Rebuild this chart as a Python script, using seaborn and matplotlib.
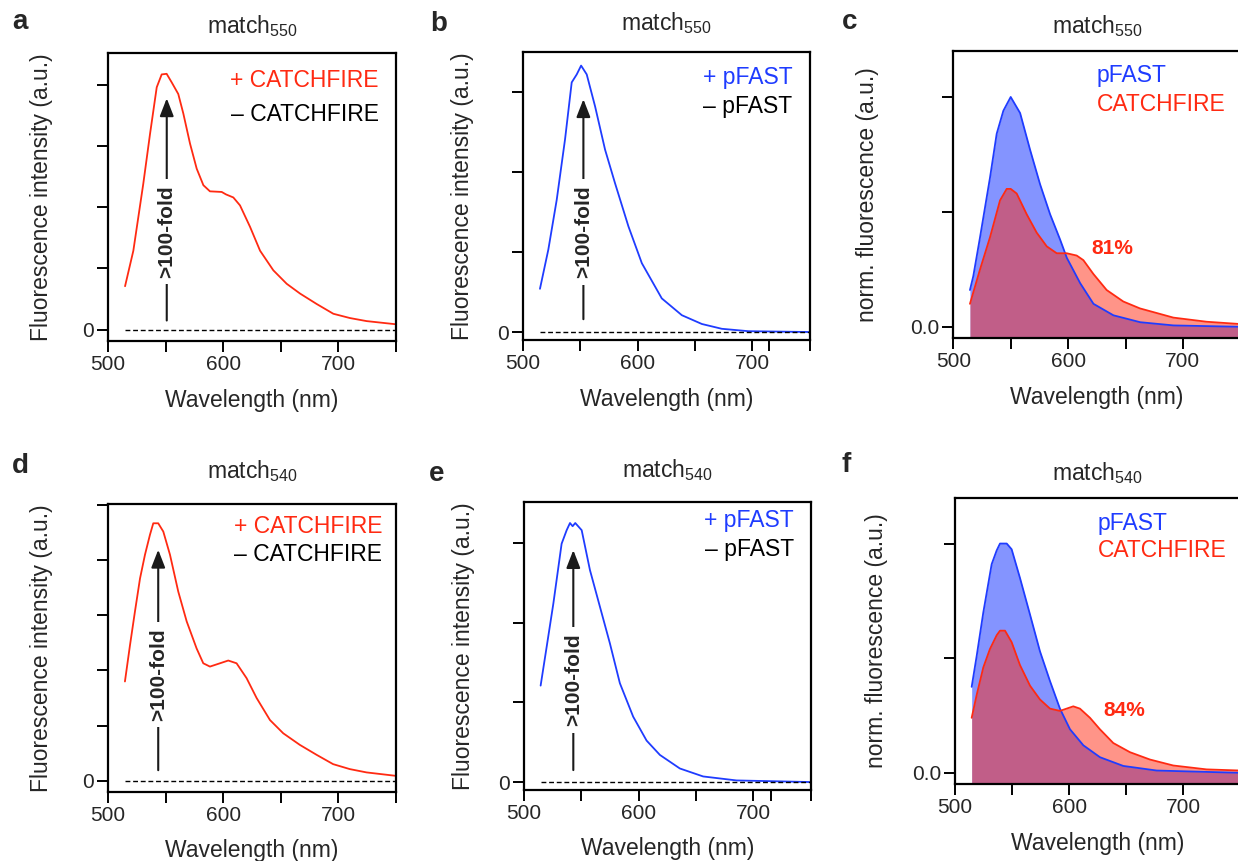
import matplotlib
matplotlib.use('Agg')
import matplotlib.pyplot as plt
import seaborn as sns
import pandas as pd

# ---- data (wavelength in nm, intensity in a.u.) ----
# a: match550, + CATCHFIRE
wl_a = [514.8, 522, 530.6, 536.5, 542.3, 546.6, 550.9, 555.3, 561, 565.4, 571.2, 577, 582.8,
        588.5, 598.7, 602.4, 608.8, 614.6, 623.3, 632, 643.5, 655.1, 666.7, 681.1, 695.6,
        710, 724.5, 749.1]
int_a = [0.71, 1.29, 2.38, 3.2, 3.96, 4.17, 4.18, 4.04, 3.85, 3.53, 3.04, 2.63, 2.36,
         2.26, 2.25, 2.21, 2.16, 2.03, 1.68, 1.29, 0.97, 0.75, 0.59, 0.42, 0.26,
         0.19, 0.14, 0.09]

# b: match550, + pFAST
wl_b = [514.8, 522.1, 529.4, 536.7, 542.5, 546.9, 550.7, 555.6, 562.9, 571.6, 580.3, 592,
        603.7, 621.1, 638.6, 656.1, 673.5, 696.8, 749.2]
int_b = [0.54, 1.03, 1.65, 2.41, 3.12, 3.22, 3.33, 3.22, 2.82, 2.28, 1.86, 1.32,
         0.86, 0.42, 0.21, 0.10, 0.04, 0.01, 0.0]

# c: match550, normalised
wl_c_pfast = [514.5, 517.4, 523.3, 532, 537.8, 543.6, 550, 558.2, 566.9, 575.6, 584.3, 593,
              598.9, 610.5, 622.1, 639.5, 662.8, 691.8, 750]
norm_c_pfast = [0.16, 0.22, 0.39, 0.65, 0.84, 0.94, 1.0, 0.93, 0.77, 0.62, 0.49, 0.38,
                0.30, 0.19, 0.10, 0.05, 0.02, 0.006, 0.0]
wl_c_cf = [514.5, 523.3, 532, 540.7, 546.5, 550, 555.2, 563.9, 572.6, 581.4, 590.1, 598.8,
           607.5, 613.3, 622, 633.6, 648.1, 662.6, 691.7, 720.7, 750]
norm_c_cf = [0.10, 0.25, 0.39, 0.55, 0.60, 0.60, 0.58, 0.49, 0.41, 0.35, 0.32, 0.32,
             0.31, 0.29, 0.23, 0.16, 0.11, 0.08, 0.04, 0.022, 0.012]

# d: match540, + CATCHFIRE
wl_d = [514.7, 519.1, 523.4, 527.8, 532.1, 536.4, 539.3, 543.6, 548, 553.8, 561, 568.3,
        576.9, 582.7, 588.5, 597.2, 604.4, 611.6, 620.3, 629, 640.6, 652.1, 666.5, 681,
        695.4, 709.9, 724.4, 748.9]
int_d = [1.80, 2.46, 3.07, 3.67, 4.10, 4.46, 4.67, 4.67, 4.52, 4.10, 3.43, 2.89,
         2.40, 2.13, 2.07, 2.13, 2.18, 2.13, 1.86, 1.50, 1.10, 0.86, 0.65, 0.47,
         0.30, 0.21, 0.15, 0.09]

# e: match540, + pFAST
wl_e = [514.5, 519.8, 525.6, 532.8, 537.2, 540.1, 542.4, 544.7, 550.3, 557.5, 566.2, 574.9,
        583.6, 595.2, 606.9, 618.5, 635.9, 656.2, 685.3, 749.1]
int_e = [1.21, 1.70, 2.24, 2.99, 3.16, 3.25, 3.21, 3.25, 3.16, 2.66, 2.20, 1.74,
         1.24, 0.82, 0.52, 0.34, 0.17, 0.07, 0.02, 0.0]

# f: match540, normalised
wl_f_pfast = [514.6, 519, 524.8, 532.1, 536.5, 539.4, 545.3, 549.6, 556.9, 565.7, 574.4, 583.2,
              591.9, 600.7, 612.4, 627, 647.4, 676.6, 750]
norm_f_pfast = [0.375, 0.51, 0.70, 0.91, 0.97, 1.0, 1.0, 0.975, 0.85, 0.69, 0.53, 0.40,
                0.28, 0.19, 0.12, 0.068, 0.03, 0.01, 0.0]
wl_f_cf = [514.6, 519, 524.8, 530.6, 536.5, 539.4, 543.8, 549.6, 556.9, 565.7, 574.4, 583.2,
           591.9, 597.7, 603.6, 609.4, 618.2, 626.9, 638.6, 653.2, 670.7, 691.1, 720.3, 750]
norm_f_cf = [0.24, 0.34, 0.46, 0.54, 0.60, 0.62, 0.62, 0.57, 0.47, 0.38, 0.32, 0.28,
             0.27, 0.28, 0.29, 0.28, 0.24, 0.19, 0.13, 0.09, 0.058, 0.032, 0.015, 0.01]

# "minus" controls (flat at zero)
wl_neg = [515, 750]
int_neg = [0, 0]

RED = '#ff2a12'
BLUE = '#1f3cff'

sns.set_theme(style='ticks')
plt.rcParams['font.family'] = ['Liberation Sans', 'DejaVu Sans']
plt.rcParams['mathtext.fontset'] = 'custom'
plt.rcParams['mathtext.rm'] = 'Liberation Sans'

W, H = 1238, 861
fig = plt.figure(figsize=(W / 100, H / 100), dpi=100)


def px_axes(left, top, width, height):
    return fig.add_axes([left / W, 1 - (top + height) / H, width / W, height / H])


def style_axes(ax, ylim, yticks, ylabel0, extra_tick=False):
    ax.set_xlim(500, 750)
    ax.set_ylim(*ylim)
    xt = [500, 550, 600, 650, 700, 750]
    xl = ['500', '', '600', '', '700', '']
    if extra_tick:
        xt = [500, 550, 600, 650, 700, 715, 750]
        xl = ['500', '', '600', '', '700', '', '']
    ax.set_xticks(xt)
    ax.set_xticklabels(xl)
    ax.set_yticks(yticks)
    ax.set_yticklabels([ylabel0] + [''] * (len(yticks) - 1))
    ax.tick_params(direction='out', length=8, width=1.4, labelsize=15, pad=2, color='black')
    for s in ax.spines.values():
        s.set_linewidth(1.6)
        s.set_color('black')
    ax.set_xlabel('Wavelength (nm)', fontsize=16.5)
    ax.xaxis.set_label_coords(0.5, -0.205)
    ax.xaxis.label.set_va('center')


def raw_panel(ax, wl, y, neg_wl, neg_y, color, name, ylim, yticks, arrow_x, tip, bot,
              txt_y, leg_x, leg_y1, leg_y2, ylab_x, extra_tick=False):
    df = pd.DataFrame({'wl': wl, 'val': y})
    sns.lineplot(data=df, x='wl', y='val', color=color, lw=1.3, ax=ax)
    ax.plot(neg_wl, neg_y, color='black', lw=1.0, ls=(0, (3.5, 2)))
    style_axes(ax, ylim, yticks, '0', extra_tick)
    ax.set_ylabel('Fluorescence intensity (a.u.)', fontsize=16.5)
    ax.yaxis.set_label_coords(ylab_x, 0.5)
    ax.annotate('', xy=(arrow_x, tip), xytext=(arrow_x, bot),
                arrowprops=dict(arrowstyle='-|>,head_width=0.35,head_length=0.9',
                                color='#1a1a1a', lw=1.5, shrinkA=0, shrinkB=0))
    ax.text(arrow_x, txt_y, '>100-fold', rotation=90, ha='center', va='center',
            fontsize=15, fontweight='bold',
            bbox=dict(boxstyle='square,pad=0.3', fc='white', ec='none'))
    ax.text(leg_x, leg_y1, '+ ' + name, transform=ax.transAxes, ha='right', va='center',
            fontsize=16.5, color=color)
    ax.text(leg_x, leg_y2, '\u2013 ' + name, transform=ax.transAxes, ha='right', va='center',
            fontsize=16.5, color='black')


def norm_panel(ax, wl_p, y_p, wl_c, y_c, pct, pct_x, pct_y, leg_y1, leg_y2, ylab_x):
    ymin = -0.05
    ax.fill_between(wl_p, y_p, ymin, color=BLUE, alpha=0.55, lw=0)
    ax.fill_between(wl_c, y_c, ymin, color=RED, alpha=0.5, lw=0)
    sns.lineplot(x=wl_p, y=y_p, color=BLUE, lw=1.3, ax=ax)
    sns.lineplot(x=wl_c, y=y_c, color=RED, lw=1.3, ax=ax)
    style_axes(ax, (ymin, 1.2), [0, 0.5, 1.0], '0.0')
    ax.set_ylabel('norm. fluorescence (a.u.)', fontsize=16.5)
    ax.yaxis.set_label_coords(ylab_x, 0.5)
    ax.text(pct_x, pct_y, pct, ha='left', va='center', fontsize=15, fontweight='bold', color=RED)
    ax.text(0.5, leg_y1, 'pFAST', transform=ax.transAxes, ha='left', va='center',
            fontsize=16.5, color=BLUE)
    ax.text(0.5, leg_y2, 'CATCHFIRE', transform=ax.transAxes, ha='left', va='center',
            fontsize=16.5, color=RED)


def title(ax, sub, gap_px, height_px):
    ax.text(0.5, 1 + gap_px / height_px, 'match$_\\mathregular{' + sub + '}$',
            transform=ax.transAxes, ha='center', va='baseline', fontsize=16.5)


ax_a = px_axes(108, 53, 288, 288)
ax_b = px_axes(523, 52, 286.5, 288)
ax_c = px_axes(953.3, 51, 287, 287.3)
ax_d = px_axes(108, 504, 288, 287.7)
ax_e = px_axes(524, 502.3, 286.7, 287.7)
ax_f = px_axes(955, 497.7, 285.5, 286.6)

raw_panel(ax_a, wl_a, int_a, wl_neg, int_neg, RED, 'CATCHFIRE', (-0.185, 4.52), [0, 1, 2, 3, 4],
          551, 3.78, 0.15, 1.6, 0.94, 0.906, 0.785, -0.19)
raw_panel(ax_b, wl_b, int_b, wl_neg, int_neg, BLUE, 'pFAST', (-0.10, 3.50), [0, 1, 2, 3],
          552.7, 2.91, 0.16, 1.25, 0.94, 0.913, 0.81, -0.17, extra_tick=True)
norm_panel(ax_c, wl_c_pfast, norm_c_pfast, wl_c_cf, norm_c_cf, '81%', 620.7, 0.34,
           0.913, 0.815, -0.26)
raw_panel(ax_d, wl_d, int_d, wl_neg, int_neg, RED, 'CATCHFIRE', (-0.2, 5.02), [0, 1, 2, 3, 4, 5],
          543.6, 4.19, 0.19, 1.92, 0.952, 0.921, 0.823, -0.19)
raw_panel(ax_e, wl_e, int_e, wl_neg, int_neg, BLUE, 'pFAST', (-0.10, 3.51), [0, 1, 2, 3],
          543, 2.91, 0.15, 1.28, 0.942, 0.938, 0.837, -0.17, extra_tick=True)
norm_panel(ax_f, wl_f_pfast, norm_f_pfast, wl_f_cf, norm_f_cf, '84%', 629.9, 0.27,
           0.911, 0.815, -0.234)

title(ax_a, '550', 20, 288)
title(ax_b, '550', 22, 288)
title(ax_c, '550', 18, 287.3)
title(ax_d, '540', 26, 287.7)
title(ax_e, '540', 25, 287.7)
title(ax_f, '540', 18, 286.6)

for letter, x, y in [('a', 12, 22), ('b', 430, 24), ('c', 842, 22),
                     ('d', 12, 466), ('e', 429, 474), ('f', 841, 465)]:
    fig.text(x / W, 1 - y / H, letter, fontsize=20, fontweight='bold', va='center', ha='left')

fig.savefig('out.png', dpi=100)
